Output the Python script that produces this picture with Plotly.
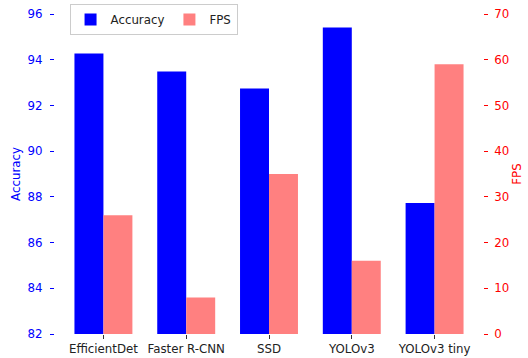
import plotly.graph_objects as go

models = ["EfficientDet", "Faster R-CNN", "SSD", "YOLOv3", "YOLOv3 tiny"]
accuracy = [94.27, 93.48, 92.74, 95.41, 87.73]
fps = [26, 8, 35, 16, 59]

FONT = "DejaVu Sans"
FS = 11.8

fig = go.Figure()
fig.add_trace(go.Bar(x=models, y=accuracy, name="Accuracy", marker_color="#0000FF",
                     marker_line_width=0, width=0.35, offset=-0.35, yaxis="y"))
fig.add_trace(go.Bar(x=models, y=fps, name="FPS", marker_color="#FF8080",
                     marker_line_width=0, width=0.35, offset=0, yaxis="y2"))

fig.update_layout(
    width=528, height=358,
    margin=dict(l=54.5, r=44.5, t=14, b=24, autoexpand=False),
    paper_bgcolor="white", plot_bgcolor="white",
    font=dict(family=FONT, size=FS, color="#222222"),
    barmode="overlay",
    showlegend=True,
    legend=dict(orientation="h", x=0.034, y=1.031, xanchor="left", yanchor="top",
                bordercolor="#CCCCCC", borderwidth=1, bgcolor="rgba(255,255,255,0.8)",
                font=dict(family=FONT, size=FS, color="#222222")),
    xaxis=dict(range=[-0.585, 4.585], showgrid=False, showline=False, zeroline=False,
               automargin=False,
               ticks="outside", ticklen=4, tickcolor="#333333",
               tickfont=dict(family=FONT, size=FS, color="#222222")),
    yaxis=dict(range=[82, 96], dtick=2, showgrid=False, showline=False, zeroline=False,
               automargin=False, ticklabelstandoff=5,
               ticks="outside", ticklen=4, tickcolor="#0000FF",
               tickfont=dict(family=FONT, size=FS, color="#0000FF"),
               title=dict(text="Accuracy", font=dict(family=FONT, size=FS, color="#0000FF"), standoff=4)),
    yaxis2=dict(range=[0, 70], dtick=10, overlaying="y", side="right", showgrid=False,
                automargin=False, ticklabelstandoff=4,
                showline=False, zeroline=False, ticks="outside", ticklen=4, tickcolor="#FF0000",
                tickfont=dict(family=FONT, size=FS, color="#FF0000"),
                title=dict(text="FPS", font=dict(family=FONT, size=FS, color="#FF0000"), standoff=4)),
)

fig.write_html("out.html", config={"displayModeBar": False},
               post_script="document.body.style.margin='0';")
